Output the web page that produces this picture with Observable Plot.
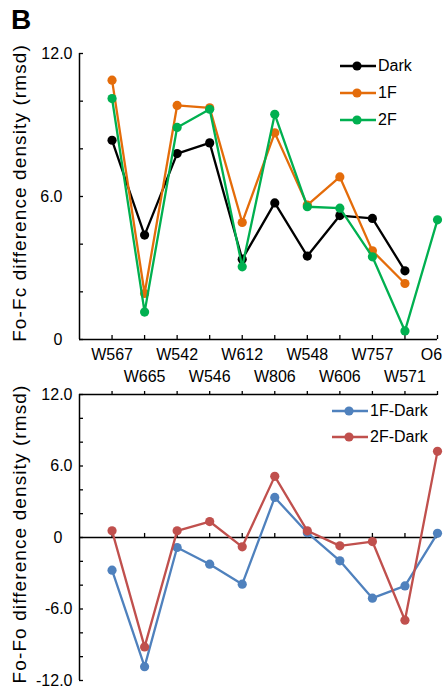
<!DOCTYPE html>
<html><head><meta charset="utf-8">
<script src="https://cdn.jsdelivr.net/npm/d3@7"></script>
<script src="https://cdn.jsdelivr.net/npm/@observablehq/plot@0.6"></script>
<style>
body{margin:0;background:#fff;font-family:"Liberation Sans",Arial,sans-serif;color:#000;}
#wrap{position:relative;width:445px;height:689px;overflow:hidden;}
.abs{position:absolute;}
.ylab{position:absolute;white-space:nowrap;transform:translate(-50%,-50%) rotate(-90deg);font-size:19px;letter-spacing:1.1px;line-height:1;}
.leg{position:absolute;display:flex;align-items:center;height:20px;font-size:16px;}
svg{overflow:visible;}
</style></head><body><div id="wrap"></div>
<script>
// ---- data ----
const categories = ["W567","W665","W542","W546","W612","W806","W548","W606","W757","W571","O6"];
const darkValues = [8.36, 4.38, 7.80, 8.25, 3.37, 5.73, 3.50, 5.20, 5.08, 2.88, null];
const f1Values   = [10.88, 1.93, 9.82, 9.72, 4.91, 8.67, 5.64, 6.82, 3.72, 2.35, null];
const f2Values   = [10.11, 1.15, 8.90, 9.66, 3.05, 9.45, 5.57, 5.51, 3.47, 0.36, 5.02];
const f1DarkValues = [-2.74, -10.84, -0.84, -2.24, -3.92, 3.36, 0.40, -1.96, -5.09, -4.06, 0.35];
const f2DarkValues = [0.56, -9.18, 0.56, 1.34, -0.78, 5.13, 0.56, -0.70, -0.34, -6.94, 7.23];
const topSeries = [
  {name:"Dark", color:"#000000", values: darkValues},
  {name:"1F", color:"#E46C0A", values: f1Values},
  {name:"2F", color:"#00B050", values: f2Values}
];
const bottomSeries = [
  {name:"1F-Dark", color:"#4F81BD", values: f1DarkValues},
  {name:"2F-Dark", color:"#C0504D", values: f2DarkValues}
];
const topTickLabels = [0, 6, 12];
const bottomTickLabels = [-12, -6, 0, 6, 12];

// ---- helpers ----
const positions = categories.map((d, i) => i + 1);
const last = positions[positions.length - 1];
const fmt = d => d === 0 ? "0" : d.toFixed(1);
const rowsOf = s => s.values.map((v, i) => ({x: i + 1, y: v})).filter(d => d.y != null);
const seriesMarks = list => list.flatMap(s => [
  Plot.line(rowsOf(s), {x: "x", y: "y", stroke: s.color, strokeWidth: 2.3}),
  Plot.dot(rowsOf(s), {x: "x", y: "y", fill: s.color, r: 4.6})
]);
const chartStyle = {fontFamily: "'Liberation Sans', Arial, sans-serif", fontSize: "16px", color: "#000", background: "transparent", overflow: "visible"};
const wrap = document.getElementById("wrap");

// ---- top chart ----
const topChart = Plot.plot({
  width: 445, height: 390,
  marginLeft: 79, marginRight: 8, marginTop: 53, marginBottom: 51,
  x: {domain: [0, 11], axis: null, label: null},
  y: {domain: [0, 12], axis: null, label: null},
  style: chartStyle,
  marks: [
    Plot.ruleX([0], {stroke: "#000", strokeWidth: 1.5}),
    Plot.ruleY([0], {stroke: "#000", strokeWidth: 1.5}),
    Plot.axisY({ticks: d3.range(0, 13, 2), tickSize: -4, tickFormat: () => "", label: null, strokeWidth: 1.3}),
    Plot.axisY({ticks: topTickLabels.filter(d => d === 12), tickSize: 0, tickPadding: 7, tickFormat: fmt, label: null}),
    Plot.axisY({ticks: topTickLabels.filter(d => d !== 12), tickSize: 0, tickPadding: 17, tickFormat: fmt, label: null}),
    Plot.axisX({ticks: positions, tickSize: -4, tickFormat: () => "", label: null, strokeWidth: 1.3}),
    Plot.axisX({ticks: positions.filter(p => p % 2 === 1 && p !== last), tickSize: 0, tickPadding: 9, tickFormat: p => categories[p - 1], label: null}),
    Plot.axisX({ticks: [last], tickSize: 0, tickPadding: 9, dx: -6, tickFormat: p => categories[p - 1], label: null}),
    Plot.axisX({ticks: positions.filter(p => p % 2 === 0), tickSize: 0, tickPadding: 31, tickFormat: p => categories[p - 1], label: null}),
    ...seriesMarks(topSeries)
  ]
});
topChart.style.position = "absolute"; topChart.style.left = "0px"; topChart.style.top = "0px";
wrap.appendChild(topChart);

// ---- bottom chart ----
const bottomChart = Plot.plot({
  width: 445, height: 309,
  marginLeft: 79, marginRight: 8, marginTop: 14, marginBottom: 9,
  x: {domain: [0, 11], axis: null, label: null},
  y: {domain: [-12, 12], axis: null, label: null},
  style: chartStyle,
  marks: [
    Plot.ruleX([0], {stroke: "#000", strokeWidth: 1.5}),
    Plot.ruleY([0, 12], {stroke: "#000", strokeWidth: 1.5}),
    Plot.axisY({ticks: d3.range(-12, 13, 2), tickSize: -4, tickFormat: () => "", label: null, strokeWidth: 1.3}),
    Plot.axisY({ticks: bottomTickLabels.filter(d => d !== 0), tickSize: 0, tickPadding: 7, tickFormat: fmt, label: null}),
    Plot.axisY({ticks: bottomTickLabels.filter(d => d === 0), tickSize: 0, tickPadding: 17, tickFormat: fmt, label: null}),
    Plot.axisX({anchor: "top", ticks: positions, tickSize: 4, tickFormat: () => "", label: null, strokeWidth: 1.3}),
    Plot.ruleX(positions, {x: d => d, y1: 0, y2: 0.34, stroke: "#000", strokeWidth: 1.3}),
    ...seriesMarks(bottomSeries)
  ]
});
bottomChart.style.position = "absolute"; bottomChart.style.left = "0px"; bottomChart.style.top = "380px";
wrap.appendChild(bottomChart);

// ---- texts ----
const B = document.createElement("div");
B.className = "abs"; B.textContent = "B";
Object.assign(B.style, {left: "11px", top: "6px", fontSize: "28px", fontWeight: "bold", lineHeight: "1"});
wrap.appendChild(B);

function ylab(text, cx, cy) {
  const d = document.createElement("div");
  d.className = "ylab"; d.textContent = text;
  d.style.left = cx + "px"; d.style.top = cy + "px";
  wrap.appendChild(d);
}
ylab("Fo-Fc difference density (rmsd)", 19, 193);
ylab("Fo-Fo difference density (rmsd)", 19, 534);

function legend(list, left, y0, step, dotX) {
  list.forEach((s, i) => {
    const d = document.createElement("div");
    d.className = "leg";
    d.style.left = left + "px"; d.style.top = (y0 + i * step - 10) + "px";
    d.innerHTML = `<svg width="38" height="20"><line x1="0" x2="36" y1="10" y2="10" stroke="${s.color}" stroke-width="2.3"/><circle cx="${dotX}" cy="10" r="4.6" fill="${s.color}"/></svg><span>${s.name}</span>`;
    wrap.appendChild(d);
  });
}
legend(topSeries, 340, 66, 27, 17);
legend(bottomSeries, 332, 410.5, 26.5, 17);
</script></body></html>
